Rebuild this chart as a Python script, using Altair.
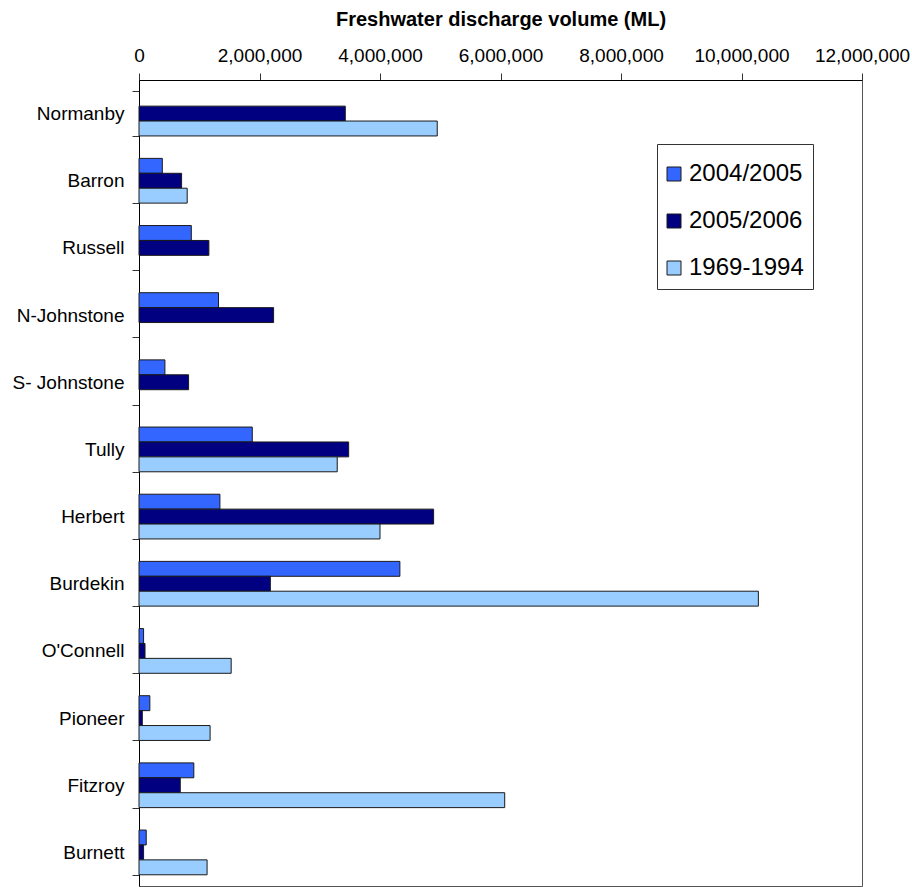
import altair as alt
import pandas as pd

# Rivers, top to bottom
rivers = ["Normanby", "Barron", "Russell", "N-Johnstone", "S- Johnstone", "Tully",
          "Herbert", "Burdekin", "O'Connell", "Pioneer", "Fitzroy", "Burnett"]

# Freshwater discharge volume (ML); None = no value reported
flow_2004_2005 = [None, 387000, 868000, 1320000, 430000, 1880000,
                  1343000, 4330000, 76000, 180000, 910000, 120000]
flow_2005_2006 = [3424000, 707000, 1160000, 2234000, 823000, 3480000,
                  4890000, 2180000, 100000, 55000, 685000, 76000]
flow_1969_1994 = [4950000, 800000, None, None, None, 3290000,
                  4000000, 10280000, 1530000, 1180000, 6070000, 1130000]

periods = ["2004/2005", "2005/2006", "1969-1994"]
colors = ["#3366FF", "#000080", "#99CCFF"]
x_ticks = [0, 2000000, 4000000, 6000000, 8000000, 10000000, 12000000]

rows = []
for period, values in zip(periods, [flow_2004_2005, flow_2005_2006, flow_1969_1994]):
    for river, v in zip(rivers, values):
        if v is not None:
            rows.append({"river": river, "period": period, "volume": v})
df = pd.DataFrame(rows)

FONT = "Liberation Sans"

chart = alt.Chart(df).mark_bar(stroke="#1a1a1a", strokeWidth=1).encode(
    x=alt.X(
        "volume:Q",
        scale=alt.Scale(domain=[0, 12000000], nice=False),
        axis=alt.Axis(
            orient="top", values=x_ticks, format=",d", grid=False,
            labelOverlap=False, labelFlush=False,
            title="Freshwater discharge volume (ML)",
            titleFontSize=20, titleFontWeight="bold", titleColor="black",
            titlePadding=17, labelFontSize=19, labelColor="black",
            labelPadding=8, tickSize=7, tickColor="#333", domainColor="black",
        ),
    ),
    y=alt.Y(
        "river:N",
        sort=rivers,
        scale=alt.Scale(domain=rivers, paddingInner=0.334, paddingOuter=0.167),
        axis=alt.Axis(
            title=None, tickBand="extent", labelFontSize=19, labelColor="black",
            labelPadding=8, tickSize=7, tickColor="#333", domainColor="black",
        ),
    ),
    yOffset=alt.YOffset("period:N", sort=periods,
                        scale=alt.Scale(domain=periods, paddingInner=0, paddingOuter=0)),
    color=alt.Color(
        "period:N",
        sort=periods,
        scale=alt.Scale(domain=periods, range=colors),
        legend=alt.Legend(
            title=" ", titleFontSize=4, titlePadding=5,
            orient="none", legendX=518, legendY=64,
            symbolType="square", symbolSize=196, symbolStrokeColor="#1a1a1a",
            symbolStrokeWidth=1, symbolOffset=-4,
            labelFontSize=24, labelColor="black",
            labelOffset=3, rowPadding=23, padding=9,
            strokeColor="#333", fillColor="white",
        ),
    ),
).properties(
    width=723,
    height=806,
    autosize=alt.AutoSizeParams(type="none"),
    padding={"left": 139, "top": 80, "right": 50, "bottom": 1},
).configure(
    font=FONT,
).configure_view(
    stroke="#555", strokeWidth=1,
)

chart.save("out.html", embed_options={"renderer": "svg", "actions": False})
